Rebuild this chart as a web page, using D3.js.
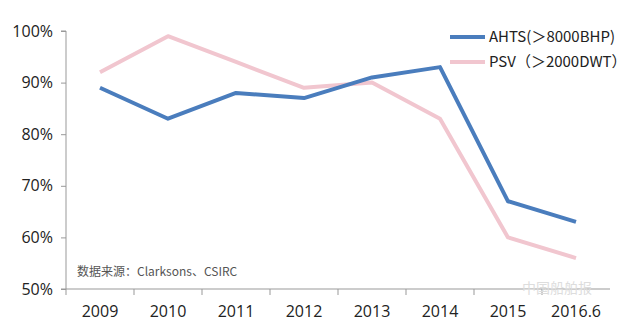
<!DOCTYPE html>
<html><head><meta charset="utf-8">
<script src="https://cdn.jsdelivr.net/npm/d3@7"></script>
<style>body{margin:0;background:#fff}svg{display:block}</style>
</head><body>
<svg id="c" width="640" height="333"></svg>
<script>
const categories = ["2009","2010","2011","2012","2013","2014","2015","2016.6"];
const ahts = [89,83,88,87,91,93,67,63];
const psv = [92,99,94,89,90,83,60,56];
const yTicks = [50,60,70,80,90,100];
const seriesNames = ["AHTS(＞8000BHP)","PSV（＞2000DWT）"];
const colors = ["#4a7dbd","#f1c6cf"];

const svg = d3.select("#c");
const x = d3.scaleBand().domain(categories).range([66,610]);
const y = d3.scaleLinear().domain([50,100]).range([289,31]);
const font = "'Open Sans','DejaVu Sans',sans-serif";
const cjk = "'Noto Sans CJK SC',sans-serif";

const ya = svg.append("g").attr("transform","translate(66,0)")
  .call(d3.axisLeft(y).tickValues(yTicks).tickFormat(d=>d+"%").tickSize(5).tickPadding(8));
ya.select(".domain").attr("stroke","#999").attr("d","M-5,31H0V289H-5");
ya.selectAll("line").attr("stroke","#999");
ya.selectAll("text").attr("font-size",16).attr("font-family",font).attr("fill","#222");

const xa = svg.append("g").attr("transform","translate(0,289)")
  .call(d3.axisBottom(x).tickSize(0).tickPadding(17));
xa.select(".domain").attr("stroke","#999").attr("d","M66,0H610");
xa.selectAll("text").attr("font-size",16).attr("font-family",font).attr("fill","#222");
svg.append("g").selectAll("line").data(categories).join("line")
  .attr("x1",d=>x(d)).attr("x2",d=>x(d)).attr("y1",289).attr("y2",295)
  .attr("stroke","#999");

const line = d3.line().x((d,i)=>x(categories[i])+x.bandwidth()/2).y(d=>y(d));
[psv,ahts].forEach((s,k)=>{
  svg.append("path").attr("d",line(s)).attr("fill","none")
    .attr("stroke",k===0?colors[1]:colors[0]).attr("stroke-width",4)
    .attr("stroke-linejoin","round");
});

const lg = svg.append("g");
seriesNames.forEach((n,i)=>{
  const yy = 37 + i*25;
  lg.append("line").attr("x1",450).attr("x2",485).attr("y1",yy).attr("y2",yy)
    .attr("stroke",colors[i]).attr("stroke-width",4);
  lg.append("text").attr("x",489).attr("y",yy).attr("dy","0.35em")
    .attr("font-size",15).attr("font-family",cjk).attr("fill","#222").text(n);
});

svg.append("text").attr("x",77).attr("y",272).attr("dy","0.35em")
  .attr("font-size",12).attr("font-family",cjk).attr("fill","#555")
  .text("数据来源：Clarksons、CSIRC");

svg.append("text").attr("x",522).attr("y",288).attr("dy","0.35em")
  .attr("font-size",14).attr("font-family",cjk).attr("fill","#ddd")
  .text("中国船舶报");
</script>
</body></html>
